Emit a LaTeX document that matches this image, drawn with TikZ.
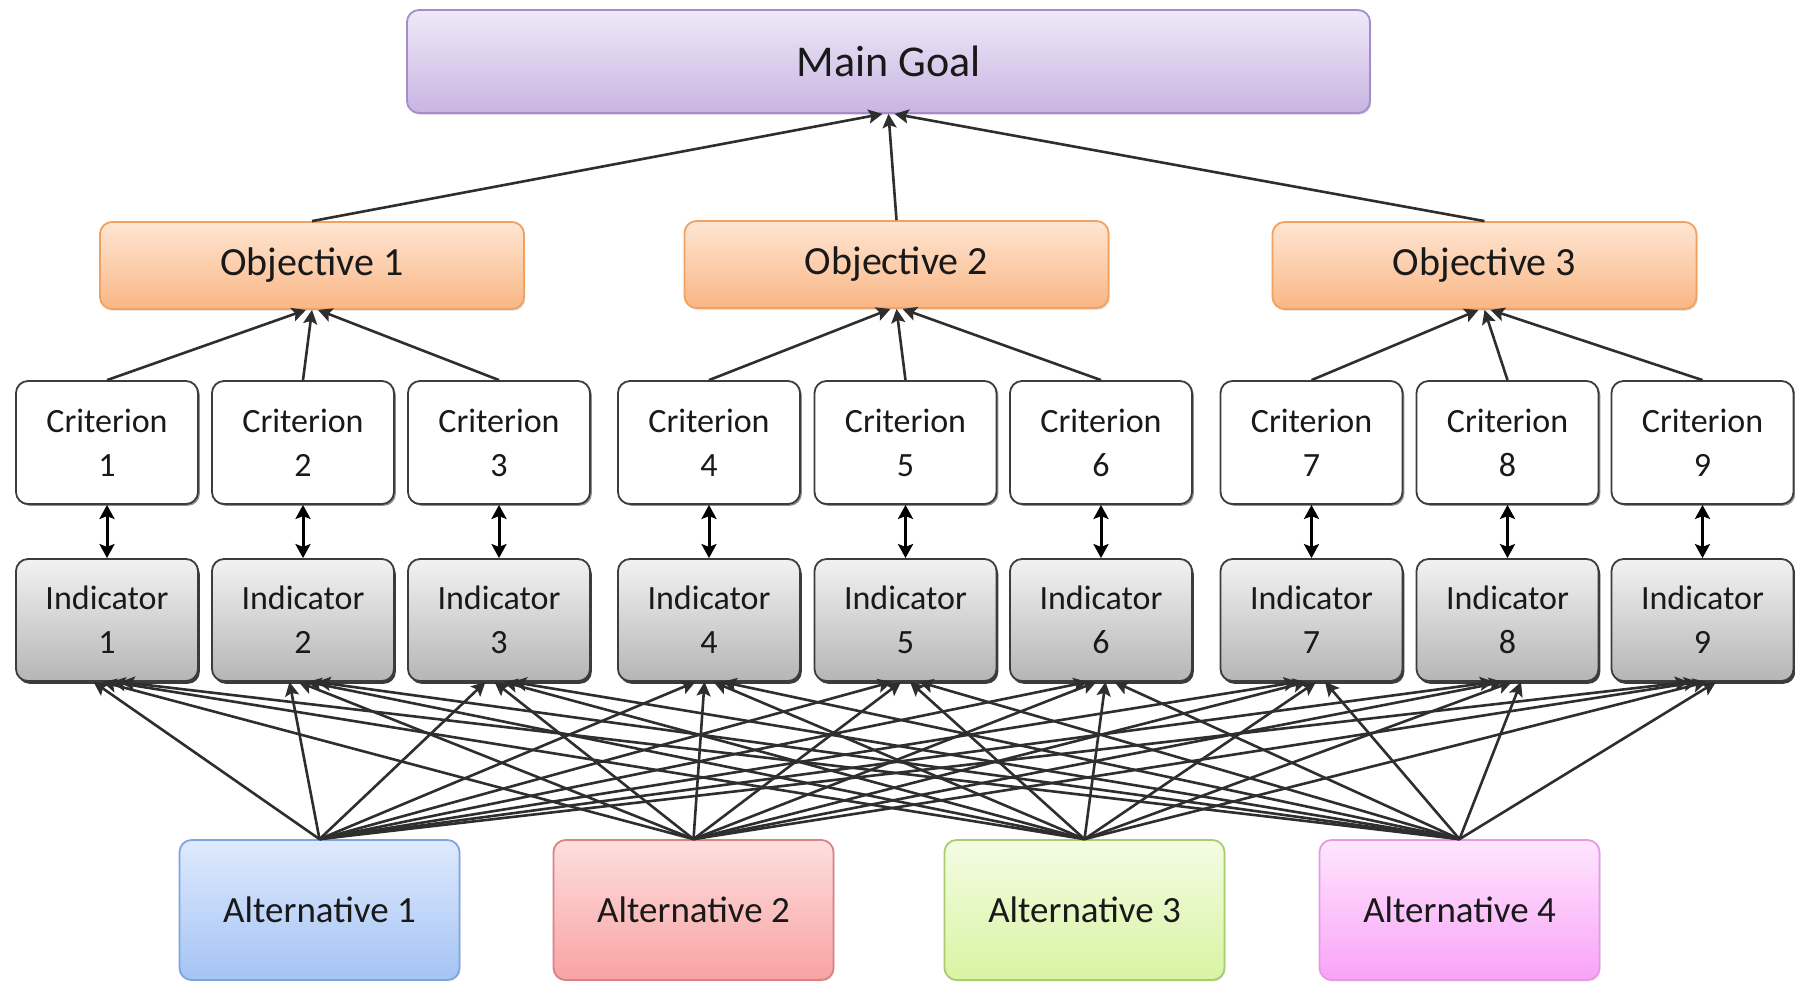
\documentclass[tikz,border=0pt]{standalone}
\usepackage{fontspec}
\setmainfont{Carlito}
\usetikzlibrary{arrows.meta,shadows}

\definecolor{goalTop}{HTML}{EFE9F8}
\definecolor{goalBot}{HTML}{C8B4E2}
\definecolor{goalBd}{HTML}{A58DCB}
\definecolor{objTop}{HTML}{FEE6D3}
\definecolor{objBot}{HTML}{F9B685}
\definecolor{objBd}{HTML}{F2A160}
\definecolor{indTop}{HTML}{F2F2F2}
\definecolor{indBot}{HTML}{B5B5B5}
\definecolor{boxBd}{HTML}{3C3C3C}
\definecolor{altATop}{HTML}{DEEAFD}
\definecolor{altABot}{HTML}{A5C3F5}
\definecolor{altABd}{HTML}{7FA6DC}
\definecolor{altBTop}{HTML}{FEDEDE}
\definecolor{altBBot}{HTML}{F8A3A3}
\definecolor{altBBd}{HTML}{D98383}
\definecolor{altCTop}{HTML}{F4FCE3}
\definecolor{altCBot}{HTML}{D8F4A3}
\definecolor{altCBd}{HTML}{AACB70}
\definecolor{altDTop}{HTML}{FEE6FD}
\definecolor{altDBot}{HTML}{F9A3F8}
\definecolor{altDBd}{HTML}{E69AE6}
\definecolor{lineCol}{HTML}{2E2E2E}

\begin{document}
\begin{tikzpicture}[x=0.5pt,y=-0.5pt,
  box/.style={rounded corners=6pt, line width=0.9pt, inner sep=0pt,
    align=center, text=black!90},
  goalbox/.style={box, draw=goalBd, top color=goalTop, bottom color=goalBot,
    minimum width=481.5pt, minimum height=51.5pt,
    font=\fontsize{22}{26}\selectfont,
    drop shadow={shadow xshift=0.6pt, shadow yshift=-0.8pt, fill=black!30, opacity=0.6}},
  objbox/.style={box, draw=objBd, top color=objTop, bottom color=objBot,
    minimum width=212pt, minimum height=43.5pt,
    font=\fontsize{20}{24}\selectfont,
    drop shadow={shadow xshift=0.6pt, shadow yshift=-0.8pt, fill=black!25, opacity=0.6}},
  critbox/.style={box, draw=boxBd, fill=white,
    minimum width=91pt, minimum height=61.5pt,
    font=\fontsize{17}{22}\selectfont,
    drop shadow={shadow xshift=0.9pt, shadow yshift=-0.9pt, fill=black!55, opacity=0.8}},
  indbox/.style={box, draw=boxBd, top color=indTop, bottom color=indBot,
    minimum width=91pt, minimum height=61pt,
    font=\fontsize{17}{22}\selectfont,
    drop shadow={shadow xshift=0.9pt, shadow yshift=-1.4pt, fill=black!85, opacity=0.9}},
  altbox/.style={box, minimum width=140pt, minimum height=70pt,
    font=\fontsize{18.5}{22}\selectfont,
    drop shadow={shadow xshift=0.5pt, shadow yshift=-0.7pt, fill=black!20, opacity=0.5}},
  tip/.style={Stealth[length=7pt, width=7pt, inset=1.4pt]},
  conn/.style={draw=lineCol, line width=1.3pt, -{Stealth[length=7pt, width=7pt, inset=1.4pt]}},
  dconn/.style={draw=black, line width=1.5pt,
    {Stealth[length=7pt, width=7.5pt, inset=1.4pt]}-{Stealth[length=7pt, width=7.5pt, inset=1.4pt]}}
]
\useasboundingbox[fill=white] (0,0) rectangle (1795,982);

% top level
\node[goalbox] (goal) at (888.5,61.5) {Main Goal};

% objectives
\node[objbox] (obj1) at (312,265.5) {Objective 1};
\node[objbox] (obj2) at (896.5,264.5) {Objective 2};
\node[objbox] (obj3) at (1484.5,265.5) {Objective 3};

% criteria and indicators
\foreach \i/\x in {1/107,2/303,3/499,4/709,5/905.5,6/1101,7/1311.5,8/1507.5,9/1702.5}{
  \node[critbox] (crit\i) at (\x,442.5) {Criterion\\\i};
  \node[indbox] (ind\i) at (\x,620) {Indicator\\\i};
}

% alternatives
\node[altbox, draw=altABd, top color=altATop, bottom color=altABot] (alt1) at (319.5,910) {Alternative 1};
\node[altbox, draw=altBBd, top color=altBTop, bottom color=altBBot] (alt2) at (693.5,910) {Alternative 2};
\node[altbox, draw=altCBd, top color=altCTop, bottom color=altCBot] (alt3) at (1084.5,910) {Alternative 3};
\node[altbox, draw=altDBd, top color=altDTop, bottom color=altDBot] (alt4) at (1459.5,910) {Alternative 4};

% objectives -> main goal
\draw[conn] (obj1.north) -- ([xshift=-3pt]goal.south);
\draw[conn] (obj2.north) -- (goal.south);
\draw[conn] (obj3.north) -- ([xshift=3pt]goal.south);

% criteria -> objectives
\foreach \o/\a/\b/\c in {1/1/2/3, 2/4/5/6, 3/7/8/9}{
  \draw[conn] (crit\a.north) -- ([xshift=-3pt]obj\o.south);
  \draw[conn] (crit\b.north) -- (obj\o.south);
  \draw[conn] (crit\c.north) -- ([xshift=3pt]obj\o.south);
}

% criteria <-> indicators
\foreach \i in {1,...,9}
  \draw[dconn] (crit\i.south) -- (ind\i.north);

% alternatives -> indicators
\foreach \a in {1,...,4}
  \foreach \i in {1,...,9}
    \draw[conn] (alt\a.north) -- ([xshift={(\a-2.5)*4.5pt}]ind\i.south);
\end{tikzpicture}
\end{document}
